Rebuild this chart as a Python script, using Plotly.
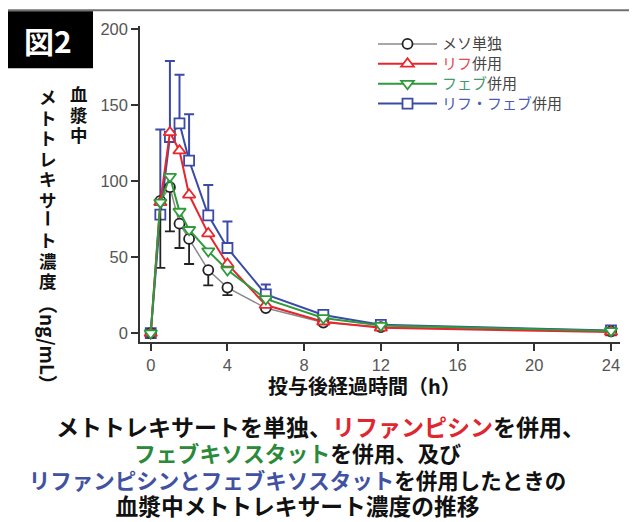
import plotly.graph_objects as go

# ---- data ----
hours = [0, 0.5, 1, 1.5, 2, 3, 4, 6, 9, 12, 24]
meso_alone = [0, 87, 96, 72, 62, 41.5, 30, 16.5, 7, 4, 1.2]
meso_err_minus = [None, 44, 29, 16, 16.5, 10, 5, None, None, None, None]
with_rif = [0, 86, 132, 120, 91, 65.5, 45.5, 18.5, 7.5, 3.5, 0.8]
with_feb = [0, 86, 103, 80, 68, 54, 41.5, 22.5, 10, 5, 1.5]
with_rif_feb = [0, 78, 129, 138, 113.5, 77.5, 56, 25.5, 12, 5.5, 1.8]
rif_feb_err_plus = [None, 56, 50, 32, 30.5, 20, 17.5, 6.5, 2, None, None]

x_ticks = [0, 4, 8, 12, 16, 20, 24]
y_ticks = [0, 50, 100, 150, 200]

LS = "font-size:15px"
legend_names = {
    "meso": '<span style="%s">メソ単独</span>' % LS,
    "rif": '<span style="%s;color:#e5484f">リフ</span><span style="%s">併用</span>' % (LS, LS),
    "feb": '<span style="%s;color:#3f9a6e">フェブ</span><span style="%s">併用</span>' % (LS, LS),
    "rif_feb": '<span style="%s;color:#4a5cb0">リフ・フェブ</span><span style="%s">併用</span>' % (LS, LS),
}

C_BLACK = "#222222"
C_RED = "#e8262d"
C_GREEN = "#2f9a3c"
C_BLUE = "#3a4aa6"

JP = "Noto Sans CJK JP"
NUM = "Liberation Sans, Arial, Noto Sans CJK JP"

# page offset (body margin) and plot area, in reference pixels
OFF = 8
W, H = 637, 522
L, R, T, B = 140, 620, 20, 342


def px(x):
    return (x - L) / (R - L)


def py(y):
    return (B - y) / (B - T)


fig = go.Figure()

fig.add_trace(go.Scatter(
    x=hours, y=with_rif_feb, name=legend_names["rif_feb"], legendrank=4,
    mode="lines+markers",
    line=dict(color=C_BLUE, width=2),
    marker=dict(symbol="square", size=10, color="white", line=dict(color=C_BLUE, width=1.8)),
    error_y=dict(type="data", array=rif_feb_err_plus, arrayminus=[0] * len(hours),
                 symmetric=False, color=C_BLUE, thickness=2, width=5),
))
fig.add_trace(go.Scatter(
    x=hours, y=meso_alone, name=legend_names["meso"], legendrank=1,
    mode="lines+markers",
    line=dict(color="#8a8a8a", width=1.5),
    marker=dict(symbol="circle", size=10, color="white", line=dict(color=C_BLACK, width=1.8)),
    error_y=dict(type="data", array=[0] * len(hours), arrayminus=meso_err_minus,
                 symmetric=False, color=C_BLACK, thickness=1.8, width=5),
))
fig.add_trace(go.Scatter(
    x=hours, y=with_rif, name=legend_names["rif"], legendrank=2,
    mode="lines+markers",
    line=dict(color=C_RED, width=2),
    marker=dict(symbol="triangle-up", size=11, color="white", line=dict(color=C_RED, width=1.8)),
))
fig.add_trace(go.Scatter(
    x=hours, y=with_feb, name=legend_names["feb"], legendrank=3,
    mode="lines+markers",
    line=dict(color=C_GREEN, width=2),
    marker=dict(symbol="triangle-down", size=11, color="white", line=dict(color=C_GREEN, width=1.8)),
))

axis_common = dict(
    showline=True, linecolor="#333333", linewidth=1.5,
    ticks="outside", ticklen=7, tickwidth=1.5, tickcolor="#333333",
    showgrid=False, zeroline=False,
    tickfont=dict(family=NUM, size=16.5, color="#555555"),
)
fig.update_xaxes(range=[-0.56, 24.47], tickvals=x_ticks, **axis_common)
fig.update_yaxes(range=[-5.8, 202], tickvals=y_ticks, **axis_common)

shapes = [
    dict(type="line", xref="paper", yref="paper", x0=px(7), x1=px(W + 5), y0=py(4), y1=py(4),
         line=dict(color="#707070", width=2)),
    dict(type="line", xref="paper", yref="paper", x0=px(7), x1=px(7), y0=py(4), y1=py(H + 5),
         line=dict(color="#707070", width=2)),
    dict(type="rect", xref="paper", yref="paper", x0=px(7), x1=px(93), y0=py(5), y1=py(63),
         fillcolor="black", line=dict(width=0)),
]

ann = []


def add_text(text, x, y, size, color="#111111", **kw):
    ann.append(dict(text=text, x=px(x), y=py(y), xref="paper", yref="paper",
                    showarrow=False, font=dict(family=JP, size=size, color=color),
                    xanchor=kw.pop("xanchor", "center"), yanchor=kw.pop("yanchor", "middle"), **kw))


def span(txt, size, color=None):
    st = "font-size:%spx;font-weight:bold" % size
    if color:
        st += ";color:%s" % color
    return '<span style="%s">%s</span>' % (st, txt)


add_text("<b>図2</b>", 48, 34, 30, color="white")

# y-axis title: vertical Japanese text
STEP = 20.5
GLYPH = 17.5
ANN_FS = STEP / 1.3


def vstack(chars):
    return "<br>".join(span(c, GLYPH) for c in chars)


col_right = "血漿中"
col_left_a = "メトトレキサ"
col_left_dash = "ー"
col_left_b = "ト濃度"

y0 = 89
add_text(vstack(col_right), 79, y0 + STEP * (len(col_right) - 1) / 2, ANN_FS)
ya = 93
add_text(vstack(col_left_a), 48, ya + STEP * (len(col_left_a) - 1) / 2, ANN_FS)
yd = ya + STEP * len(col_left_a) + 0.5
add_text(span(col_left_dash, GLYPH), 48, yd, GLYPH, textangle=90)
yb = yd + STEP + 0.5
add_text(vstack(col_left_b), 48, yb + STEP * (len(col_left_b) - 1) / 2, ANN_FS)
add_text("<b>（ng/mL）</b>", 48, 344, 19, textangle=90)

# x-axis title
add_text("<b>投与後経過時間（h）</b>", 364, 386, 20)

RED_T = "#e0262e"
GRN_T = "#2a8a3a"
BLU_T = "#4152a3"
caption_lines = [
    span("　　メトトレキサートを単独、", 23) + span("リファンピシン", 23, RED_T) + span("を併用、", 23),
    span("フェブキソスタット", 21.8, GRN_T) + span("を併用、及び", 21.8),
    span("リファンピシンとフェブキソスタット", 21.5, BLU_T) + span("を併用したときの", 21.5),
    span("血漿中メトトレキサート濃度の推移", 22.75),
]
CAP_TOP, CAP_BOTTOM = 428, 507
cap_step = (CAP_BOTTOM - CAP_TOP) / (len(caption_lines) - 1)
add_text("<br>".join(caption_lines), 297, (CAP_TOP + CAP_BOTTOM) / 2, cap_step / 1.3, align="center")

fig.update_layout(
    width=W - OFF, height=H - OFF,
    margin=dict(l=L - OFF, r=W - R, t=T - OFF, b=H - B),
    paper_bgcolor="white", plot_bgcolor="white",
    shapes=shapes, annotations=ann,
    showlegend=True,
    legend=dict(x=px(373), y=py(23), xanchor="left", yanchor="top",
                bgcolor="rgba(0,0,0,0)", font=dict(family=JP, size=13, color="#444444"),
                itemwidth=59, tracegroupgap=0),
)

fig.write_html("out.html")
